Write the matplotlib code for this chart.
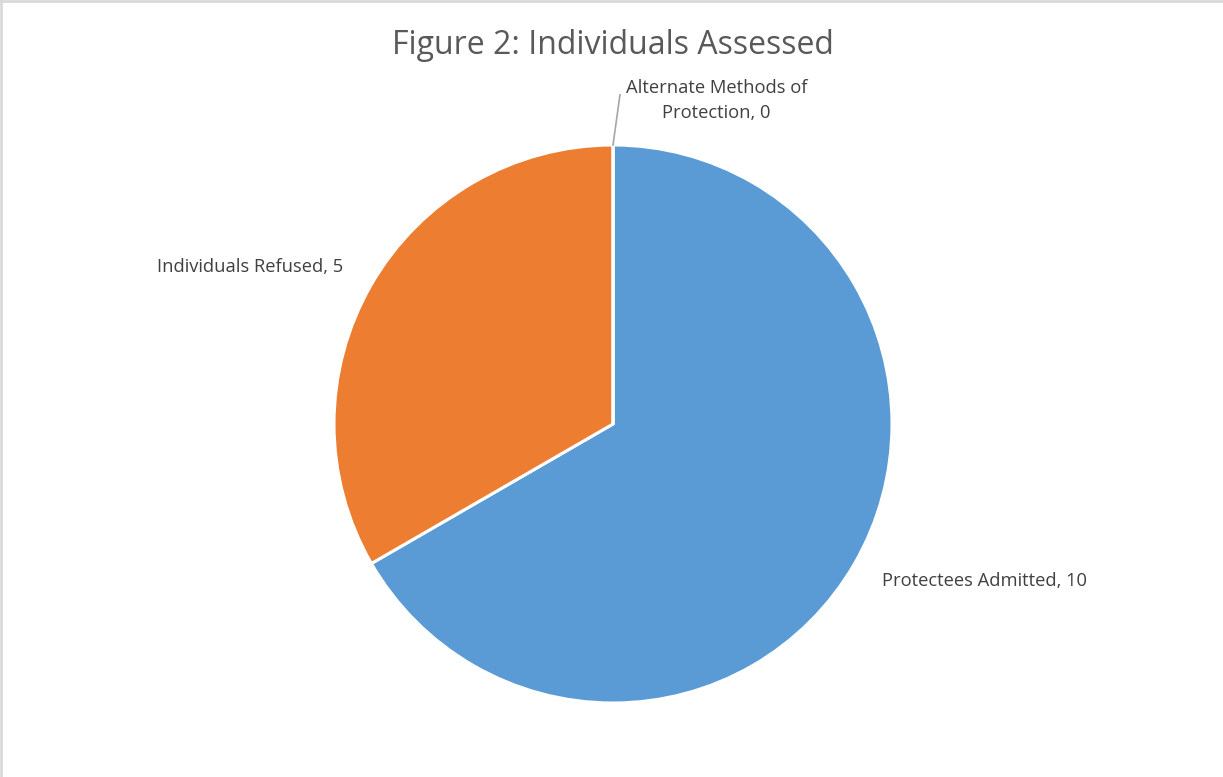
import numpy as np
import matplotlib.pyplot as plt

# data
categories = ["Protectees Admitted", "Individuals Refused", "Alternate Methods of\nProtection"]
values = [10, 5, 0]
colors = ["#5B9BD5", "#ED7D31", "#A5A5A5"]

W, H = 1223, 777
fig = plt.figure(figsize=(W / 100, H / 100), dpi=100)
fig.patch.set_facecolor("white")

# thin grey border at top/left, as in the exported picture
fig.add_artist(plt.Line2D([1.2 / W, 1.2 / W], [0, 1], color="#D9D9D9", lw=2))
fig.add_artist(plt.Line2D([0, 1], [1 - 1.2 / H, 1 - 1.2 / H], color="#D9D9D9", lw=2))

# pie axes: centre (613, 424) px, radius ~279 px
cx, cy, r = 613, 424, 279
ax = fig.add_axes([(cx - r) / W, (H - cy - r) / H, 2 * r / W, 2 * r / H])

wedges, _ = ax.pie(values, colors=colors, startangle=90, counterclock=False,
                   radius=1, wedgeprops=dict(edgecolor="white", linewidth=2.2))
ax.set_xlim(-1, 1)
ax.set_ylim(-1, 1)
ax.set_aspect("equal")
ax.axis("off")

lab_font = dict(family=["Open Sans", "DejaVu Sans"], fontsize=13.2, color="#404040")
for w, cat, v in zip(wedges, categories, values):
    mid = np.deg2rad((w.theta1 + w.theta2) / 2)
    txt = f"{cat}, {v}"
    if v == 0:
        # leader line for the empty slice
        ax.plot([0, 0.025], [1, 1.18], color="#A6A6A6", lw=1.2, clip_on=False)
        ax.text(0.37, 1.16, txt, ha="center", va="center", clip_on=False,
                linespacing=1.45, **lab_font)
    else:
        x, y = 1.115 * np.cos(mid), 1.125 * np.sin(mid)
        ax.text(x, y, txt, ha="left" if x > 0 else "right", va="center",
                clip_on=False, **lab_font)

fig.text(613 / W, 1 - 45 / H, "Figure 2: Individuals Assessed", ha="center", va="center",
         family=["Open Sans", "DejaVu Sans"], fontsize=23, color="#595959")

fig.savefig("out.png", dpi=100)
